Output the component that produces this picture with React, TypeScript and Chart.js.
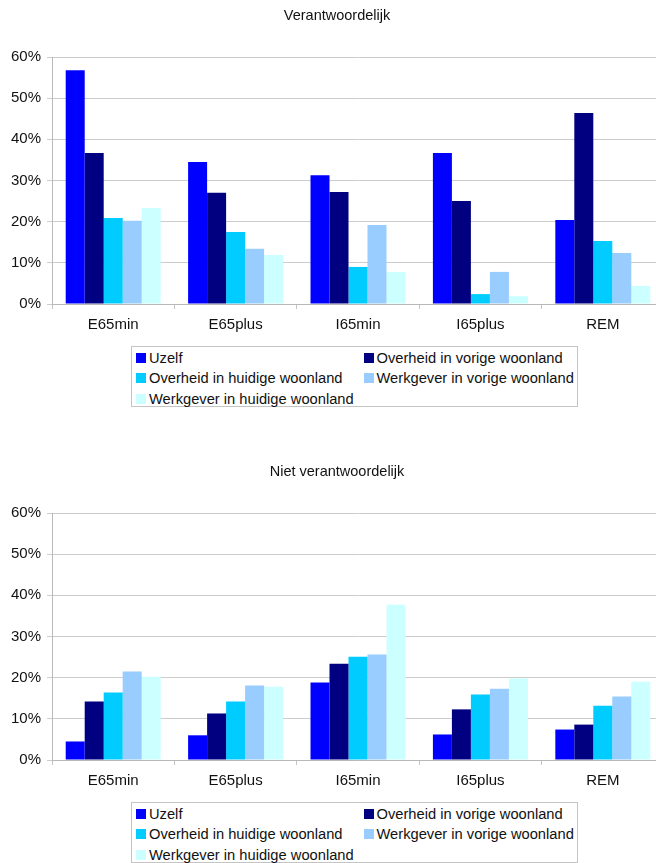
import React, { useEffect, useRef } from "react";
import { Chart, registerables } from "chart.js";

Chart.register(...registerables);

const FONT = "'Liberation Sans', Arial, Helvetica, sans-serif";

const categories = ["E65min", "E65plus", "I65min", "I65plus", "REM"];
const seriesNames = [
  "Uzelf",
  "Overheid in vorige woonland",
  "Overheid in huidige woonland",
  "Werkgever in vorige woonland",
  "Werkgever in huidige woonland",
];
const seriesColors = ["#0000FF", "#000080", "#00CCFF", "#99CCFF", "#CCFFFF"];
const yTickValues = [0, 10, 20, 30, 40, 50, 60];

// Verantwoordelijk (%)
const verUzelf = [56.8, 34.5, 31.3, 36.7, 20.4];
const verOverheidVorige = [36.7, 27.0, 27.2, 25.0, 46.4];
const verOverheidHuidige = [20.9, 17.5, 9.0, 2.4, 15.3];
const verWerkgeverVorige = [20.2, 13.4, 19.2, 7.8, 12.4];
const verWerkgeverHuidige = [23.3, 11.9, 7.8, 1.9, 4.4];

// Niet verantwoordelijk (%)
const nietUzelf = [4.5, 6.0, 18.8, 6.2, 7.4];
const nietOverheidVorige = [14.2, 11.3, 23.4, 12.3, 8.6];
const nietOverheidHuidige = [16.4, 14.2, 25.1, 15.9, 13.2];
const nietWerkgeverVorige = [21.5, 18.1, 25.6, 17.3, 15.4];
const nietWerkgeverHuidige = [20.2, 17.8, 37.7, 19.8, 19.0];

const CANVAS_W = 674;
const CANVAS_H = 334;
const CHART_GAP = 456;

function BarChart(props: { title: string; series: number[][]; top: number }) {
  const ref = useRef<HTMLCanvasElement | null>(null);
  useEffect(() => {
    if (!ref.current) return;
    const chart = new Chart(ref.current, {
      type: "bar",
      data: {
        labels: categories,
        datasets: props.series.map((vals, i) => ({
          label: seriesNames[i],
          data: vals,
          backgroundColor: seriesColors[i],
          borderWidth: 0,
          categoryPercentage: 0.776,
          barPercentage: 1.0,
        })),
      },
      options: {
        animation: false,
        responsive: false,
        layout: { padding: { left: 10, right: 10, top: 0, bottom: 0 } },
        plugins: {
          legend: { display: false },
          tooltip: { enabled: false },
          title: {
            display: true,
            text: props.title,
            color: "#111111",
            font: { family: FONT, size: 14.5, weight: "normal" },
            padding: { top: 7, bottom: 32.6 },
          },
        },
        scales: {
          x: {
            afterFit: (s: any) => {
              s.height = 30;
            },
            grid: {
              display: true,
              drawOnChartArea: false,
              drawTicks: true,
              tickLength: 5,
              color: "#c4c4c4",
              offset: true,
            },
            border: { display: true, color: "#b8b8b8" },
            ticks: {
              color: "#111111",
              font: { family: FONT, size: 15 },
              padding: 7,
            },
          },
          y: {
            min: 0,
            max: 60,
            afterFit: (s: any) => {
              s.width = 42;
            },
            afterBuildTicks: (s: any) => {
              s.ticks = yTickValues.map((v) => ({ value: v }));
            },
            grid: { color: "#cccccc", tickLength: 5, lineWidth: 1 },
            border: { display: true, color: "#b8b8b8" },
            ticks: {
              color: "#111111",
              font: { family: FONT, size: 15 },
              padding: 6,
              callback: (v: any) => v + "%",
            },
          },
        },
      },
    });
    return () => chart.destroy();
  }, []);

  return (
    <div style={{ position: "absolute", left: 0, top: props.top, width: CANVAS_W, height: 420 }}>
      <canvas
        ref={ref}
        width={CANVAS_W}
        height={CANVAS_H}
        style={{ position: "absolute", left: 0, top: 0, width: CANVAS_W, height: CANVAS_H }}
      />
      <div
        style={{
          position: "absolute",
          left: 131,
          top: 346,
          width: 447,
          height: 61,
          border: "1px solid #c4c4c4",
          boxSizing: "border-box",
          fontFamily: FONT,
          fontSize: 14.7,
          color: "#111111",
        }}
      >
        {seriesNames.map((name, i) => (
          <div
            key={name}
            style={{
              position: "absolute",
              left: 4,
              top: 0.5 + Math.floor(i / 2) * 20.5,
              marginLeft: (i % 2) * 227.5,
              height: 20.5,
              display: "flex",
              alignItems: "center",
              whiteSpace: "nowrap",
            }}
          >
            <span
              style={{
                display: "inline-block",
                width: 10,
                height: 10,
                background: seriesColors[i],
                marginRight: 3,
              }}
            />
            <span>{name}</span>
          </div>
        ))}
      </div>
    </div>
  );
}

export default function App() {
  useEffect(() => {
    document.documentElement.style.overflow = "hidden";
    document.body.style.overflow = "hidden";
  }, []);
  return (
    <div style={{ position: "absolute", left: 0, top: 0, width: 700, height: 920 }}>
      <BarChart
        title="Verantwoordelijk"
        top={0}
        series={[verUzelf, verOverheidVorige, verOverheidHuidige, verWerkgeverVorige, verWerkgeverHuidige]}
      />
      <BarChart
        title="Niet verantwoordelijk"
        top={CHART_GAP}
        series={[nietUzelf, nietOverheidVorige, nietOverheidHuidige, nietWerkgeverVorige, nietWerkgeverHuidige]}
      />
    </div>
  );
}
